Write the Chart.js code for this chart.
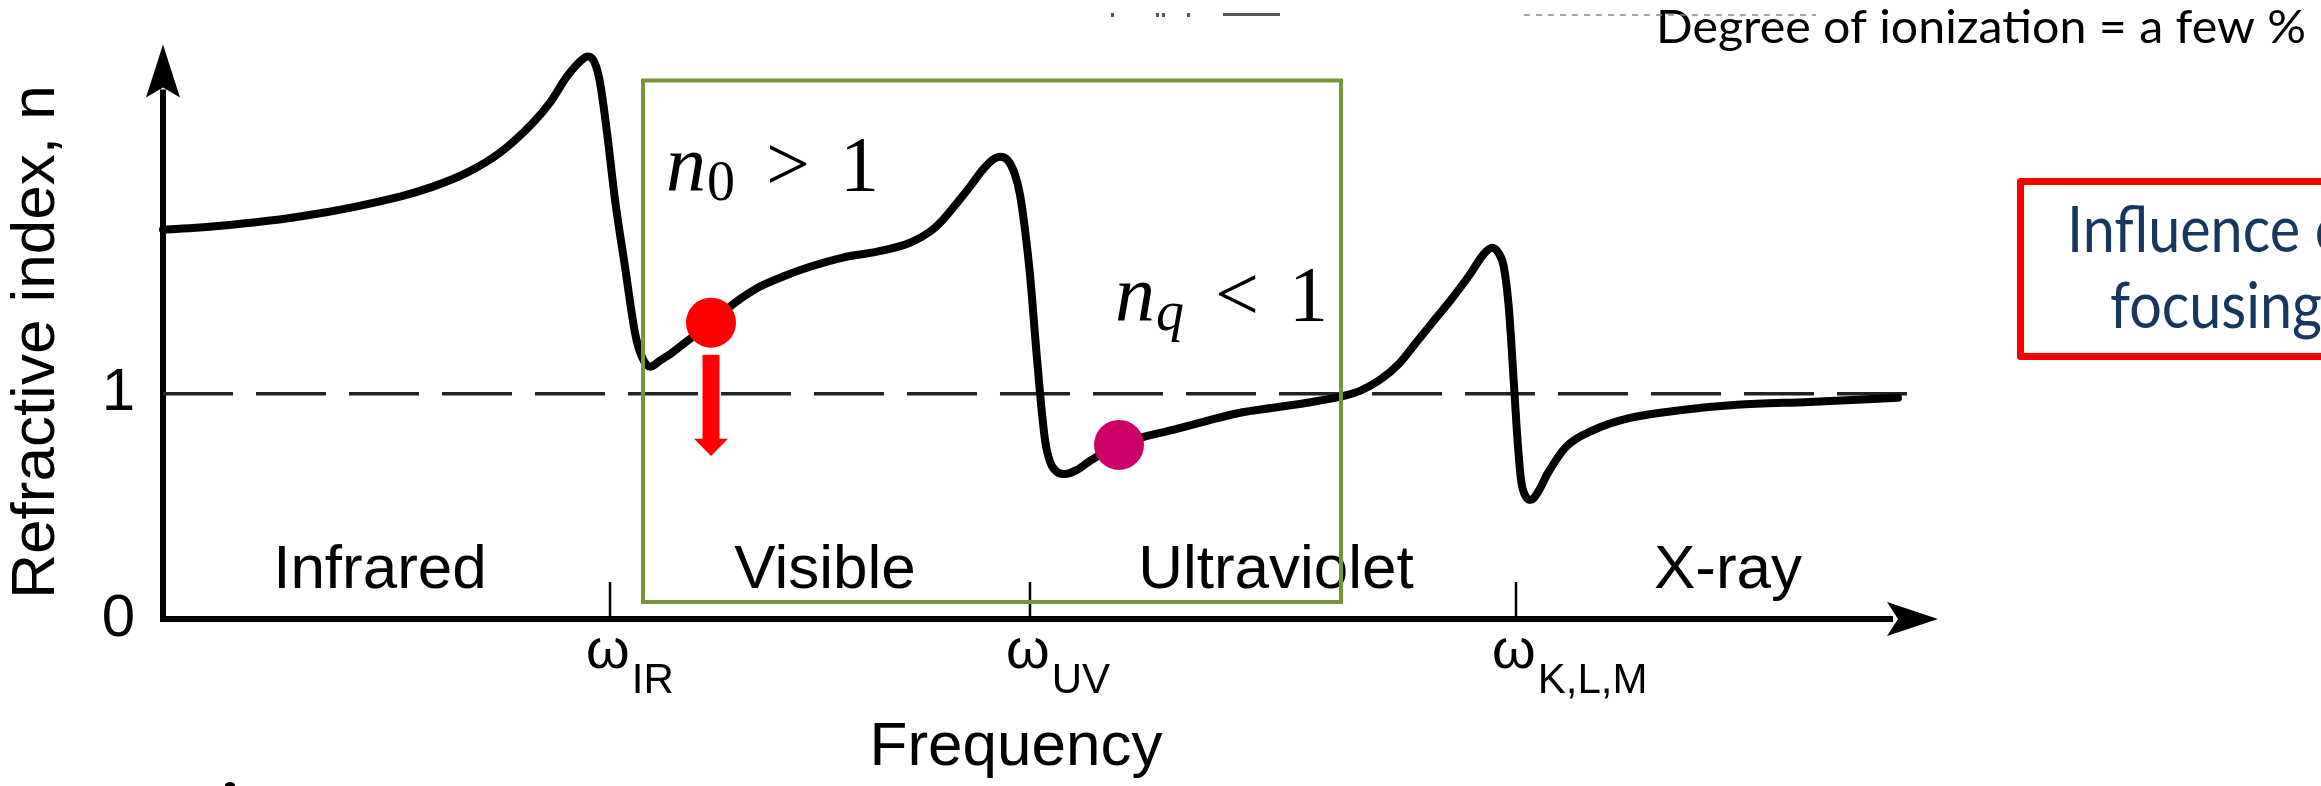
<!DOCTYPE html>
<html lang="en">
<head>
<meta charset="UTF-8">
<title>Refractive index vs frequency</title>
<style>
  html, body { margin: 0; padding: 0; background: #fff; }
  .wrap { position: relative; width: 2321px; height: 786px; }
</style>
</head>
<body>
<div class="wrap"><canvas id="myChart"></canvas></div>

<script src="https://cdn.jsdelivr.net/npm/chart.js@4.4.1/dist/chart.umd.min.js"></script>
<script>
    // dispersion curve (frequency in arbitrary units, refractive index n)
    var freq = [0.00, 0.37, 1.37, 2.37, 2.70, 3.04, 3.37, 3.70, 3.87, 4.04, 4.17, 4.25, 4.32, 4.37, 4.44, 4.52, 4.62,
                4.72, 4.78, 4.87, 4.97, 5.09, 5.27, 5.48, 5.72, 5.97, 6.22, 6.47, 6.80, 7.14, 7.47, 7.67,
                7.80, 7.95, 8.07, 8.20, 8.30, 8.37, 8.45, 8.52, 8.57, 8.62, 8.67, 8.72, 8.77, 8.82, 8.87,
                8.94, 9.02, 9.14, 9.27, 9.42, 9.56, 9.77, 10.10, 10.44, 10.77, 11.10, 11.44, 11.77, 11.97,
                12.17, 12.37, 12.53, 12.70, 12.88, 13.06, 13.21, 13.29, 13.36, 13.41, 13.46, 13.50, 13.54,
                13.58, 13.63, 13.68, 13.75, 13.85, 14.03, 14.31, 14.67, 15.21, 15.74, 16.46, 17.35];
    var index = [1.729, 1.738, 1.787, 1.876, 1.920, 1.982, 2.071, 2.204, 2.293, 2.409, 2.476, 2.498, 2.467, 2.382, 2.160, 1.862, 1.564,
                 1.271, 1.173, 1.120, 1.147, 1.182, 1.244, 1.316, 1.404, 1.476, 1.524, 1.564, 1.605, 1.631, 1.671, 1.720,
                 1.773, 1.853, 1.920, 1.996, 2.040, 2.053, 2.036, 1.973, 1.884, 1.729, 1.529, 1.262, 1.004, 0.796, 0.698,
                 0.653, 0.644, 0.662, 0.702, 0.742, 0.773, 0.804, 0.840, 0.880, 0.916, 0.938, 0.960, 0.987, 1.013,
                 1.062, 1.138, 1.227, 1.320, 1.418, 1.524, 1.622, 1.649, 1.622, 1.560, 1.373, 1.107, 0.827,
                 0.618, 0.542, 0.529, 0.564, 0.649, 0.764, 0.840, 0.893, 0.929, 0.951, 0.964, 0.982];

    var resonanceFreq = [4.47, 8.67, 13.53];
    var resonanceLabels = ['IR', 'UV', 'K,L,M'];
    var regionNames = ['Infrared', 'Visible', 'Ultraviolet', 'X-ray'];
    var regionCenters = [2.17, 6.62, 11.13, 15.65];
    var yTickValues = [0, 1];
    var yTickLabels = ['0', '1'];
    var vacuumIndex = 1;
    var markerFreq = [5.48, 9.56];
    var markerIndex = [1.316, 0.773];
    var windowFreq = [4.80, 11.78];
    var windowIndex = [0.076, 2.391];

    var curvePoints = freq.map(function (f, i) { return { x: f, y: index[i] }; });
    var markerPoints = markerFreq.map(function (f, i) { return { x: f, y: markerIndex[i] }; });
    var windowPoints = [
        { x: windowFreq[0], y: windowIndex[0] }, { x: windowFreq[0], y: windowIndex[1] },
        { x: windowFreq[1], y: windowIndex[1] }, { x: windowFreq[1], y: windowIndex[0] },
        { x: windowFreq[0], y: windowIndex[0] }
    ];

    var SANS = 'Liberation Sans';
    var SERIF = 'Liberation Serif';

    function fitted(ctx, text, x, y, font, refText, refWidth) {
        ctx.font = font;
        var s = refWidth / ctx.measureText(refText).width;
        ctx.save();
        ctx.translate(x, y);
        ctx.scale(s, 1);
        ctx.fillText(text, 0, 0);
        ctx.restore();
    }

    // n_x >/< 1 in a TeX-like layout
    function relation(ctx, sub, subItalic, rel, x, y) {
        ctx.fillStyle = '#000';
        ctx.textAlign = 'left';
        ctx.textBaseline = 'alphabetic';
        ctx.font = 'italic 80px ' + SERIF;
        ctx.fillText('n', x, y);
        ctx.font = (subItalic ? 'italic ' : '') + '56px ' + SERIF;
        ctx.fillText(sub, x + 41, y + 10);
        ctx.font = '78px ' + SERIF;
        ctx.fillText(rel, x + 100, y);
        ctx.fillText('1', x + 174, y);
    }

    var figurePlugin = {
        id: 'figure',
        beforeDatasetsDraw: function (chart) {
            var ctx = chart.ctx, xs = chart.scales.x, ys = chart.scales.y;
            var x0 = xs.getPixelForValue(0), y0 = ys.getPixelForValue(0);
            var yTip = ys.getPixelForValue(2.551), xTip = xs.getPixelForValue(17.75);
            ctx.save();

            // axes with arrow heads
            ctx.strokeStyle = '#000';
            ctx.fillStyle = '#000';
            ctx.lineWidth = 6;
            ctx.beginPath();
            ctx.moveTo(x0, y0 + 3);
            ctx.lineTo(x0, yTip + 45);
            ctx.moveTo(x0 - 3, y0);
            ctx.lineTo(xTip - 45, y0);
            ctx.stroke();
            ctx.beginPath();
            ctx.moveTo(x0, yTip);
            ctx.lineTo(x0 - 17, yTip + 53);
            ctx.lineTo(x0, yTip + 43);
            ctx.lineTo(x0 + 17, yTip + 53);
            ctx.closePath();
            ctx.fill();
            ctx.beginPath();
            ctx.moveTo(xTip, y0);
            ctx.lineTo(xTip - 51, y0 - 17);
            ctx.lineTo(xTip - 40, y0);
            ctx.lineTo(xTip - 51, y0 + 17);
            ctx.closePath();
            ctx.fill();

            // resonance ticks and omega labels
            ctx.lineWidth = 2.5;
            xs.ticks.forEach(function (t, i) {
                var px = xs.getPixelForValue(t.value);
                ctx.beginPath();
                ctx.moveTo(px, y0);
                ctx.lineTo(px, y0 - 37);
                ctx.stroke();
                ctx.textAlign = 'left';
                ctx.textBaseline = 'alphabetic';
                ctx.font = '56px ' + SANS;
                ctx.fillText('\u03c9', px - 24, y0 + 49);
                var w = ctx.measureText('\u03c9').width;
                ctx.font = '42px ' + SANS;
                ctx.fillText(resonanceLabels[i], px - 24 + w + 2, y0 + 74);
            });

            // spectral regions
            ctx.font = '62px ' + SANS;
            ctx.textAlign = 'center';
            regionNames.forEach(function (name, i) {
                ctx.fillText(name, xs.getPixelForValue(regionCenters[i]), ys.getPixelForValue(0.138));
            });
            ctx.fillText('Frequency', xs.getPixelForValue(8.53), y0 + 146);

            // n0 > 1 and nq < 1
            relation(ctx, '0', false, '>', xs.getPixelForValue(5.03), ys.getPixelForValue(1.907));
            relation(ctx, 'q', true, '<', xs.getPixelForValue(9.52), ys.getPixelForValue(1.329));

            // slide text on the right
            ctx.fillStyle = '#000';
            ctx.textAlign = 'left';
            fitted(ctx, 'Degree of ionization = a few %', 1656, 43, '46px Lato',
                'Degree of ionization = a few %', 650);

            ctx.strokeStyle = '#FF0000';
            ctx.lineWidth = 7;
            ctx.lineJoin = 'round';
            ctx.strokeRect(2020.5, 181.5, 400, 175);
            ctx.fillStyle = '#17375E';
            fitted(ctx, 'Influence of', 2067, 252, '63px Lato', 'Influence', 233);
            fitted(ctx, 'focusing', 2110, 328, '63px Lato', 'Influence', 233);

            // remains of cropped text lines
            ctx.fillStyle = '#555';
            ctx.fillRect(1111, 13, 3, 4);
            ctx.fillRect(1156, 13, 3, 4);
            ctx.fillRect(1162, 13, 3, 4);
            ctx.fillRect(1187, 13, 3, 4);
            ctx.fillRect(1223, 13, 57, 3);
            ctx.strokeStyle = '#888';
            ctx.lineWidth = 1.5;
            ctx.setLineDash([6, 6]);
            ctx.beginPath();
            ctx.moveTo(1524, 15);
            ctx.lineTo(1816, 15);
            ctx.stroke();
            ctx.setLineDash([]);
            ctx.fillStyle = '#000';
            ctx.beginPath();
            ctx.ellipse(230, 785, 5, 3, 0, 0, Math.PI * 2);
            ctx.fill();
            ctx.restore();
        },
        afterDatasetsDraw: function (chart) {
            // red arrow under the n0 marker
            var ctx = chart.ctx, xs = chart.scales.x, ys = chart.scales.y;
            var px = xs.getPixelForValue(markerFreq[0]);
            var top = ys.getPixelForValue(1.173), base = ys.getPixelForValue(0.80), tip = ys.getPixelForValue(0.724);
            ctx.save();
            ctx.fillStyle = '#FF0000';
            ctx.fillRect(px - 8.5, top, 17, base - top + 1);
            ctx.beginPath();
            ctx.moveTo(px - 17, base);
            ctx.lineTo(px + 17, base);
            ctx.lineTo(px, tip);
            ctx.closePath();
            ctx.fill();
            ctx.restore();
        }
    };

    function createChart() {
        var ctx = document.getElementById('myChart').getContext('2d');
        var myChart = new Chart(ctx, {
            type: 'line',
            data: {
                datasets: [
                    {
                        data: windowPoints, borderColor: '#77933C', borderWidth: 4, tension: 0,
                        pointRadius: 0, borderCapStyle: 'square', clip: false
                    },
                    {
                        data: markerPoints, showLine: false, pointRadius: 25, pointBorderWidth: 0,
                        pointBackgroundColor: ['#FF0000', '#CC0066'], pointBorderColor: 'rgba(0,0,0,0)', clip: false
                    },
                    {
                        data: curvePoints, borderColor: '#000', borderWidth: 8, pointRadius: 0,
                        cubicInterpolationMode: 'monotone', borderJoinStyle: 'round', borderCapStyle: 'round', clip: false
                    },
                    {
                        data: [{ x: 0, y: vacuumIndex }, { x: 17.44, y: vacuumIndex }], borderColor: '#222',
                        borderWidth: 3.5, borderDash: [70, 23], pointRadius: 0, tension: 0, clip: false
                    }
                ]
            },
            options: {
                responsive: true,
                maintainAspectRatio: false,
                animation: false,
                devicePixelRatio: 1,
                events: [],
                layout: { padding: { top: 65, right: 383, bottom: 0, left: 0 } },
                plugins: { legend: { display: false }, tooltip: { enabled: false } },
                scales: {
                    x: {
                        type: 'linear', min: 0, max: 17.75,
                        grid: { display: false, drawTicks: false },
                        border: { display: false },
                        ticks: { display: false },
                        afterBuildTicks: function (s) { s.ticks = resonanceFreq.map(function (v) { return { value: v }; }); },
                        afterFit: function (s) { s.height = 167; }
                    },
                    y: {
                        type: 'linear', min: 0, max: 2.46,
                        grid: { display: false, drawTicks: false },
                        border: { display: false },
                        ticks: {
                            padding: 28, color: '#000', font: { family: SANS, size: 60 },
                            callback: function (v, i) { return yTickLabels[i]; }
                        },
                        afterBuildTicks: function (s) { s.ticks = yTickValues.map(function (v) { return { value: v }; }); },
                        afterFit: function (s) { s.width = 163; },
                        title: {
                            display: true, text: 'Refractive index, n', color: '#000', padding: 0,
                            font: { family: SANS, size: 62 }
                        }
                    }
                }
            },
            plugins: [figurePlugin]
        });
    }
    createChart();
</script>
</body>
</html>
